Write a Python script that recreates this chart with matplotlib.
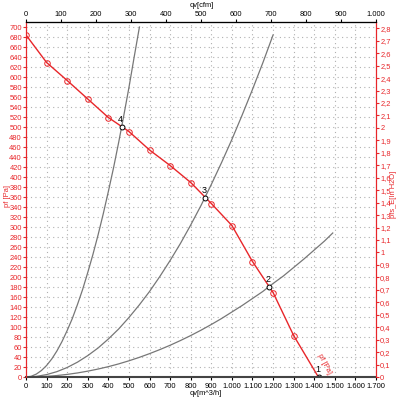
import matplotlib
matplotlib.use("Agg")
import matplotlib.pyplot as plt
from matplotlib.ticker import FuncFormatter, MultipleLocator

plt.rcParams["font.family"] = ["Liberation Sans", "DejaVu Sans"]

# Fan curve (m^3/h, Pa)
fan_q = [0, 100, 200, 300, 400, 500, 600, 700, 800, 900, 1000, 1100, 1200, 1300, 1420]
fan_p = [684, 629, 593, 556, 519, 491, 454, 423, 389, 347, 303, 231, 169, 83, 0]

# System curves
sys4_q = [0, 25, 50, 75, 100, 125, 150, 175, 200, 225, 250, 275, 300, 325, 350,
          375, 400, 425, 450, 475, 500, 525, 551]
sys4_p = [0, 1.4, 5.8, 13, 23, 36, 52, 71, 93, 117, 145, 175, 209, 245, 284,
          326, 371, 418, 469, 523, 579, 639, 700]
sys3_q = [0, 50, 100, 150, 200, 250, 300, 350, 400, 450, 500, 550, 600, 650, 700,
          750, 800, 850, 900, 950, 1000, 1050, 1100, 1150, 1200]
sys3_p = [0, 1.2, 4.8, 10.7, 19, 29.7, 42.8, 58, 76, 96, 119, 144, 171, 201, 233,
          267, 304, 343, 385, 429, 475, 524, 575, 628, 684]
sys2_q = [0, 50, 100, 150, 200, 250, 300, 350, 400, 450, 500, 550, 600, 650, 700,
          750, 800, 850, 900, 950, 1000, 1050, 1100, 1150, 1200, 1250, 1300, 1350,
          1400, 1450, 1490]
sys2_p = [0, 0.3, 1.3, 2.9, 5.2, 8.1, 11.7, 15.9, 20.7, 26.2, 32.4, 39.2, 46.7, 54.8,
          63.5, 72.9, 82.9, 93.6, 105, 117, 130, 143, 157, 171, 187, 202, 219, 236,
          254, 272, 288]

# Operating points
op_q = [1423, 1182, 869, 465]
op_p = [0, 181, 359, 501]
op_labels = ["1", "2", "3", "4"]

PA_PER_INH2O = 249.09
CFM = 1.699
FS = 5.4

red = "#e8262a"
fig = plt.figure(figsize=(4, 4), dpi=100)
ax = fig.add_axes([0.065, 0.0575, 0.875, 0.8875])
ax.set_xlim(0, 1700)
ax.set_ylim(0, 710)

ax.xaxis.set_major_locator(MultipleLocator(100))
ax.yaxis.set_major_locator(MultipleLocator(20))
ax.grid(True, color="#b0b0b0", linestyle=(0, (1, 3)), linewidth=0.8)

thou = FuncFormatter(lambda v, p: f"{int(round(v)):,}".replace(",", "."))
ax.xaxis.set_major_formatter(thou)
ax.yaxis.set_major_formatter(FuncFormatter(lambda v, p: f"{int(round(v))}"))

ax.tick_params(axis="x", labelsize=FS, length=2, pad=2, colors="black")
ax.tick_params(axis="y", labelsize=FS, length=2, pad=1, colors=red)
ax.spines["left"].set_color(red)
ax.spines["right"].set_color(red)
ax.spines["bottom"].set_color("#444444")
ax.spines["bottom"].set_linewidth(1.5)

for q, p in [(sys4_q, sys4_p), (sys3_q, sys3_p), (sys2_q, sys2_p)]:
    ax.plot(q, p, color="#777777", lw=0.9)

ax.plot(fan_q[:-1], fan_p[:-1], color=red, lw=1.0, marker="o", ms=4,
        mfc="none", mec=red, mew=0.7)
ax.plot(fan_q[-2:], fan_p[-2:], color=red, lw=1.0)

ax.plot(op_q, op_p, ls="none", marker="o", ms=3.5, mfc="white", mec="black", mew=0.7)
for q, p, t in zip(op_q, op_p, op_labels):
    ax.text(q - 5, p + 5, t, fontsize=6.5, ha="center", va="bottom")

ax.text(1450, 25, "pf [Pa]", color=red, fontsize=FS, rotation=-62,
        ha="center", va="center")

# right axis
ax2 = ax.twinx()
ax2.set_ylim(0, 710 / PA_PER_INH2O)
ax2.yaxis.set_major_locator(MultipleLocator(0.1))
ax2.yaxis.set_major_formatter(FuncFormatter(
    lambda v, p: (f"{v:.1f}".rstrip("0").rstrip(".")).replace(".", ",")))
ax2.tick_params(axis="y", labelsize=FS, length=2, pad=1, colors=red)
ax2.spines["right"].set_color(red)
ax2.spines["left"].set_color(red)
ax2.spines["top"].set_color("black")
ax2.spines["bottom"].set_visible(False)

# top axis
sec = ax.secondary_xaxis("top", functions=(lambda x: x / CFM, lambda x: x * CFM))
sec.xaxis.set_major_locator(MultipleLocator(100))
sec.xaxis.set_major_formatter(thou)
sec.tick_params(labelsize=FS, length=2, pad=1)

fig.text(0.505, 0.987, "qv[cfm]", fontsize=FS, ha="center", va="center")
fig.text(0.515, 0.017, "qv[m^3/h]", fontsize=FS, ha="center", va="center")
fig.text(0.018, 0.51, "pf [Pa]", fontsize=FS, color=red, rotation=90,
         ha="center", va="center")
fig.text(0.984, 0.515, "pfs_E[In H2O]", fontsize=FS, color=red, rotation=90,
         ha="center", va="center")

fig.savefig("out.png", dpi=100)
